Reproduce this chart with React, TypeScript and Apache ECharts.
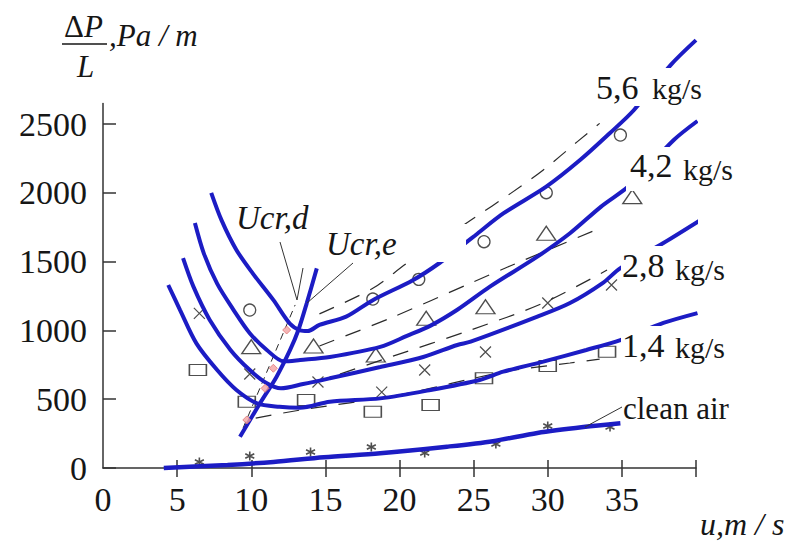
import React, { useEffect, useRef } from 'react';
import * as echarts from 'echarts';

// ---- data (x: u, m/s ; y: ΔP/L, Pa/m) ----
const xTickValues = [5, 10, 15, 20, 25, 30, 35, 40];
const xLabelValues = [0, 5, 10, 15, 20, 25, 30, 35];
const yTickValues = [0, 500, 1000, 1500, 2000, 2500];

const curve56 = [[7.3, 2000], [8.0, 1800], [9.0, 1585], [10.1, 1415], [11.5, 1220], [12.6, 1050], [13.3, 1000], [13.8, 995], [14.6, 1040], [16.4, 1100], [18.2, 1220], [20.9, 1365], [22.7, 1490], [24.5, 1640], [25.1, 1690], [27.0, 1850], [29.9, 2045], [32.2, 2240], [34.2, 2435], [35.8, 2600], [38.3, 2930], [40.0, 3110]];
const curve42 = [[6.2, 1780], [6.8, 1560], [7.7, 1340], [8.8, 1150], [9.9, 980], [11.05, 858], [12.2, 775], [13.3, 785], [15.3, 807], [18.7, 880], [20.5, 960], [22.1, 1035], [23.9, 1150], [26.1, 1318], [29.3, 1536], [31.5, 1706], [33.6, 1900], [35.6, 2060], [38.5, 2384], [40.1, 2522]];
const curve28 = [[5.4, 1525], [6.1, 1318], [7.2, 1076], [8.6, 858], [9.9, 712], [11.05, 616], [12.0, 579], [13.5, 610], [15.3, 652], [18.7, 734], [21.6, 807], [23.9, 894], [24.8, 918], [29.3, 1100], [31.5, 1199], [33.7, 1344], [34.9, 1453], [37.8, 1635], [40.3, 1802]];
const curve14 = [[4.4, 1330], [5.2, 1148], [6.3, 906], [7.7, 712], [9.0, 567], [10.4, 470], [11.9, 445], [13.3, 438], [15.3, 482], [18.7, 506], [22.1, 567], [25.4, 640], [27.0, 700], [29.7, 773], [32.6, 858], [34.9, 930], [37.8, 1054], [40.1, 1126]];
const cleanAir = [[4.1, 0], [8.4, 22], [11.5, 44], [14.9, 78], [18.7, 107], [23.2, 155], [26.3, 195], [29.3, 255], [32.4, 298], [34.9, 325]];

const ucrE = [[9.24, 227], [10.59, 470], [11.71, 664], [12.62, 858], [13.18, 1003], [13.74, 1197], [14.42, 1451]];
const ucrD = [[9.45, 291], [12.96, 1185]];
const ucrPoints = [[12.39, 1003], [11.49, 725], [10.93, 579], [9.7, 349]];

const dash56 = [[14.6, 1120], [18.2, 1306], [20.5, 1488], [25.0, 1815], [27.5, 1996], [29.7, 2166], [32.0, 2372], [33.5, 2505]];
const dash42 = [[14.6, 887], [19.4, 1090], [24.8, 1344], [27.3, 1461], [33.7, 1751]];
const dash28 = [[14.2, 618], [19.4, 807], [24.8, 1003], [29.7, 1199], [34.0, 1439]];
const dash14 = [[10.3, 363], [13.3, 421], [20.0, 531], [27.0, 698], [31.5, 763], [33.5, 792]];

const circles56 = [[9.9, 1148], [18.2, 1228], [21.3, 1371], [25.7, 1645], [29.9, 2001], [34.9, 2420]];
const triangles42 = [[10.0, 882], [14.2, 887], [18.4, 821], [21.8, 1088], [25.8, 1172], [29.9, 1706], [35.7, 1972]];
const crosses28 = [[6.5, 1124], [9.9, 683], [14.5, 625], [18.8, 552], [21.7, 712], [25.8, 843], [30.0, 1199], [34.3, 1330]];
const squares14 = [[6.4, 712], [9.7, 482], [13.7, 494], [18.2, 409], [22.1, 458], [25.7, 652], [30.0, 741], [34.0, 845]];
const starsAir = [[6.5, 44], [9.9, 87], [14.0, 116], [18.1, 153], [21.7, 109], [26.5, 174], [30.0, 305], [34.2, 298]];

const seriesLabels = ['5,6', '4,2', '2,8', '1,4'];

// ---- styles ----
const SERIF = '"Liberation Serif", "Times New Roman", serif';
const BLUE = '#1c1cc4';
const INK = '#161616';

function blueLine(data: number[][], width = 4) {
  return { type: 'line', data, smooth: 0.3, symbol: 'none', clip: false, z: 4, lineStyle: { color: BLUE, width } };
}
function dashLine(data: number[][]) {
  return { type: 'line', data, smooth: 0.3, symbol: 'none', clip: false, z: 3, lineStyle: { color: '#2a2a2a', width: 1.2, type: [16, 12] } };
}
function markers(data: number[][], symbol: string, size: any, bw = 1.3) {
  return {
    type: 'scatter', data, symbol, symbolSize: size, clip: false, z: 2,
    itemStyle: { color: 'rgba(0,0,0,0)', borderColor: '#222', borderWidth: bw },
  };
}

function txt(text: string, x: number, y: number, size: number, italic = false) {
  const font = `${italic ? 'italic ' : ''}${size}px ${SERIF}`;
  return {
    type: 'text', z: 60, zlevel: 0,
    style: { text, x, y, font, fill: INK, align: 'left', verticalAlign: 'middle', textAlign: 'left', textVerticalAlign: 'middle' },
  };
}
function whiteRect(x: number, y: number, w: number, h: number) {
  return { type: 'rect', z: 50, shape: { x, y, width: w, height: h }, style: { fill: '#ffffff' } };
}
function thin(x1: number, y1: number, x2: number, y2: number) {
  return { type: 'line', z: 61, shape: { x1, y1, x2, y2 }, style: { stroke: '#333', lineWidth: 1 } };
}

export default function App() {
  const ref = useRef<HTMLDivElement>(null);
  useEffect(() => {
    if (!ref.current) return;
    const chart = echarts.init(ref.current, null, { renderer: 'svg' });
    const axisColor = '#333';
    const option: any = {
      animation: false,
      backgroundColor: '#ffffff',
      grid: { left: 103, right: 96, top: 103.4, bottom: 77 },
      xAxis: [
        {
          type: 'value', min: 0, max: 40, interval: 5, position: 'bottom',
          axisLine: { show: true, lineStyle: { color: axisColor, width: 1.5 } },
          axisTick: { show: true, inside: false, length: 9, customValues: xTickValues, lineStyle: { color: axisColor, width: 1.5 } },
          axisLabel: { customValues: xLabelValues, fontFamily: SERIF, fontSize: 34, color: INK, margin: 14, formatter: (v: number) => (v >= 40 ? '' : String(v)) },
          splitLine: { show: false },
        },
        {
          type: 'value', min: 0, max: 40, interval: 5, position: 'bottom',
          axisLine: { show: false },
          axisTick: { show: true, inside: true, length: 8, customValues: xTickValues, lineStyle: { color: axisColor, width: 1.5 } },
          axisLabel: { show: false },
          splitLine: { show: false },
        },
      ],
      yAxis: {
        type: 'value', min: 0, max: 2650, interval: 500,
        axisLine: { show: true, lineStyle: { color: axisColor, width: 1.5 } },
        axisTick: { show: true, inside: true, length: 13, customValues: yTickValues, lineStyle: { color: axisColor, width: 1.5 } },
        axisLabel: { customValues: yTickValues, fontFamily: SERIF, fontSize: 34, color: INK, margin: 16, formatter: (v: number) => (v > 2500 ? '' : String(v)) },
        splitLine: { show: false },
      },
      series: [
        markers(circles56, 'circle', 12),
        markers(triangles42, 'triangle', [19, 14]),
        markers(crosses28, 'path://M0,0L10,10M10,0L0,10', 11, 1.2),
        markers(squares14, 'rect', [17, 11]),
        markers(starsAir, 'path://M5,0L5,10M0,2.5L10,7.5M0,7.5L10,2.5', 9, 1.6),
        dashLine(dash56),
        dashLine(dash42),
        dashLine(dash28),
        dashLine(dash14),
        { type: 'line', data: ucrD, symbol: 'none', clip: false, z: 3, lineStyle: { color: '#2a2a2a', width: 1, type: [7, 5] } },
        blueLine(curve56),
        blueLine(curve42),
        blueLine(curve28),
        blueLine(curve14),
        blueLine(cleanAir, 4.5),
        { type: 'line', data: ucrE, smooth: 0.3, symbol: 'none', clip: false, z: 4, lineStyle: { color: BLUE, width: 4 } },
        {
          type: 'scatter', data: ucrPoints, symbol: 'diamond', symbolSize: 8, z: 6,
          itemStyle: { color: '#f3a3a3', borderColor: '#e07878', borderWidth: 1 },
        },
      ],
      graphic: [
        // y-axis title  ΔP / L , Pa / m
        txt('Δ', 64, 26, 31),
        txt('P', 84, 26, 31, true),
        { type: 'line', z: 61, shape: { x1: 62, y1: 44, x2: 107, y2: 44 }, style: { stroke: INK, lineWidth: 1.6 } },
        txt('L', 77, 66, 31, true),
        txt(',Pa / m', 109, 35, 31, true),
        // x-axis title
        txt('u,m / s', 700, 524, 32, true),
        // Ucr labels
        whiteRect(318, 224, 148, 38),
        txt('Ucr,d', 236, 218, 33, true),
        txt('Ucr,e', 326, 244, 33, true),
        thin(280, 242, 297, 300),
        thin(303, 268, 297, 300),
        thin(353, 263, 307, 303),
        // right labels
        whiteRect(592, 68, 120, 38),
        txt(seriesLabels[0], 596, 87, 34),
        txt('kg/s', 652, 88, 30),
        whiteRect(626, 147, 120, 44),
        txt(seriesLabels[1], 630, 165, 34),
        txt('kg/s', 683, 169, 30),
        whiteRect(621, 246, 115, 40),
        txt(seriesLabels[2], 622, 265, 34),
        txt('kg/s', 675, 269, 30),
        whiteRect(621, 326, 115, 36),
        txt(seriesLabels[3], 622, 345, 34),
        txt('kg/s', 675, 347, 30),
        txt('clean air', 623, 408, 31),
        thin(585, 427, 622, 407),
      ],
    };
    chart.setOption(option);
    return () => chart.dispose();
  }, []);
  return <div ref={ref} style={{ position: 'fixed', left: 0, top: 0, width: 792, height: 545, background: '#fff' }} />;
}
